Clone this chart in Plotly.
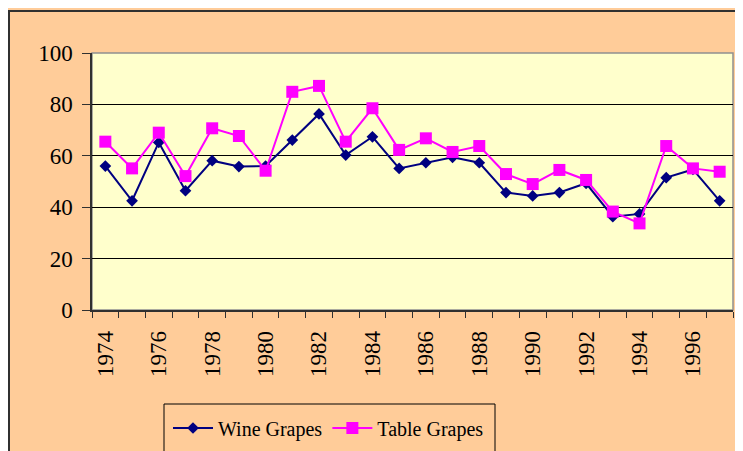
import plotly.graph_objects as go

years = list(range(1974, 1998))
wine_grapes = [56, 42.5, 65.2, 46.4, 58.1, 55.8, 56, 66.1, 76.3, 60.3, 67.4, 55.1,
               57.3, 59.4, 57.3, 45.7, 44.4, 45.7, 49.3, 36.3, 37.4, 51.5, 54.7, 42.5]
table_grapes = [65.5, 55.1, 69, 52.1, 70.7, 67.7, 54.2, 84.9, 87.2, 65.5, 78.5, 62.3,
                66.8, 61.5, 63.8, 52.9, 49.0, 54.5, 50.6, 38.3, 33.7, 63.8, 55.1, 53.8]
tick_years = list(range(1974, 1998, 2))
y_ticks = [0, 20, 40, 60, 80, 100]

# page offset of 8px (body margin) -> figure coordinates
W, H = 743, 451
L, T = 84, 45
pw, ph = 641, 257
R = W - L - pw
B = H - T - ph


def px(x):
    return (x - L) / pw


def py(y):
    return (T + ph - y) / ph


fig = go.Figure()
fig.add_trace(go.Scatter(x=years, y=wine_grapes, name="Wine Grapes", mode="lines+markers",
                         line=dict(color="#000080", width=2),
                         marker=dict(symbol="diamond", size=9, color="#000080")))
fig.add_trace(go.Scatter(x=years, y=table_grapes, name="Table Grapes", mode="lines+markers",
                         line=dict(color="#FF00FF", width=2),
                         marker=dict(symbol="square", size=12, color="#FF00FF")))

# outer frame
fig.add_shape(type="rect", xref="paper", yref="paper",
              x0=px(1), x1=px(W + 5), y0=py(H + 5), y1=py(3),
              fillcolor="rgba(0,0,0,0)", line=dict(color="#303030", width=2), layer="below")
fig.add_shape(type="rect", xref="paper", yref="paper", x0=0, x1=1, y0=0, y1=1,
              fillcolor="#FFFFCC", line=dict(color="#909090", width=1.5), layer="below")
# legend frame
fig.add_shape(type="rect", xref="paper", yref="paper",
              x0=px(156), x1=px(487), y0=py(H + 5), y1=py(396),
              fillcolor="rgba(0,0,0,0)", line=dict(color="black", width=1), layer="above")

fig.update_layout(
    width=W, height=H,
    margin=dict(l=L, r=R, t=T, b=B, autoexpand=False),
    paper_bgcolor="#FFCC99",
    plot_bgcolor="rgba(0,0,0,0)",
    font=dict(family="Times New Roman, Liberation Serif, serif", color="black"),
    showlegend=True,
    legend=dict(orientation="h", x=px(160), xanchor="left",
                y=py(420), yanchor="middle",
                bgcolor="rgba(0,0,0,0)", borderwidth=0,
                font=dict(size=20), itemwidth=40),
    xaxis=dict(range=[1973.5, 1997.5], tickvals=tick_years, ticktext=[str(y) for y in tick_years],
               tickangle=-90, tickfont=dict(size=23), ticks="", showgrid=False,
               ticklabelstandoff=10,
               showline=True, linecolor="#303030", linewidth=1.5, zeroline=False,
               minor=dict(tick0=1973.5, dtick=1, ticks="outside", ticklen=6,
                          tickcolor="#303030", showgrid=False)),
    yaxis=dict(range=[0, 100], tickvals=y_ticks, tickfont=dict(size=23),
               ticks="outside", ticklen=8, tickcolor="#303030", ticklabelstandoff=5,
               showgrid=True, gridcolor="black", gridwidth=1,
               showline=True, linecolor="#303030", linewidth=1.5, zeroline=False),
)

fig.write_html("out.html")
